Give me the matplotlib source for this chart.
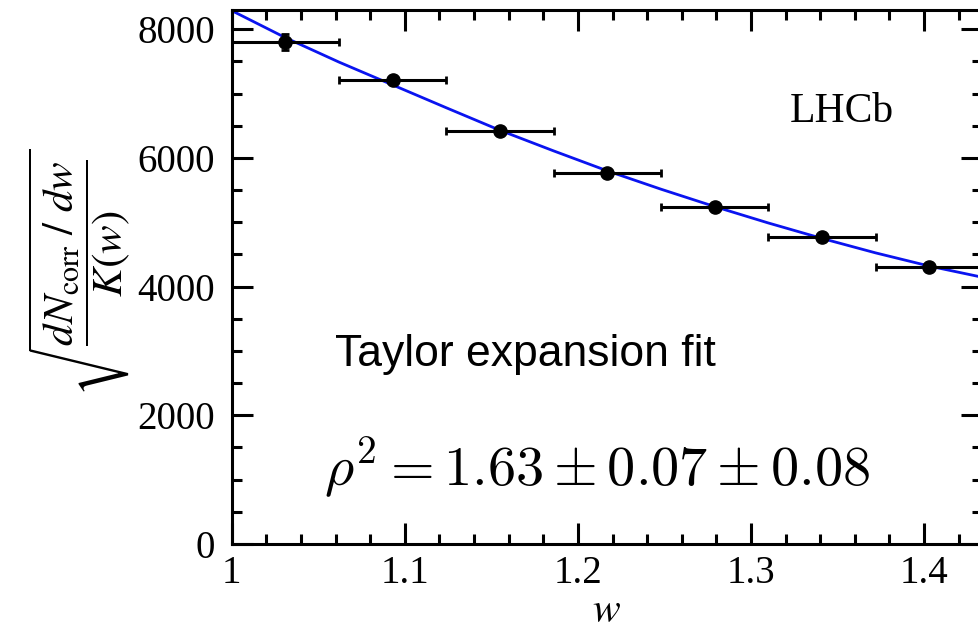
import numpy as np
import matplotlib
matplotlib.use("Agg")
import matplotlib.pyplot as plt
from matplotlib.ticker import MultipleLocator

plt.rcParams.update({
    "font.family": "serif",
    "font.serif": ["Liberation Serif", "DejaVu Serif"],
    "mathtext.fontset": "stix",
    "axes.linewidth": 2.2,
    "xtick.direction": "in",
    "ytick.direction": "in",
})

# data points (bin centres, half widths, values, errors)
w_pts = [1.031, 1.093, 1.155, 1.217, 1.279, 1.341, 1.403]
w_half = [0.031, 0.031, 0.031, 0.031, 0.031, 0.031, 0.031]
y_pts = [7800, 7212, 6424, 5771, 5235, 4764, 4310]
y_err = [120, 50, 45, 40, 40, 40, 40]

# fitted curve
w_fit = [1.000, 1.031, 1.062, 1.093, 1.124, 1.155, 1.186, 1.217, 1.248,
         1.279, 1.310, 1.341, 1.372, 1.403, 1.433]
y_fit = [8290, 7870, 7490, 7135, 6780, 6430, 6110, 5800, 5515,
         5245, 4990, 4750, 4525, 4320, 4150]

fig = plt.figure(figsize=(9.79, 6.33), dpi=100)
ax = fig.add_axes([0.2367, 0.1406, 0.7664, 0.8436])

ax.plot(w_fit, y_fit, color="#0a14f0", lw=2.0, zorder=2)
ax.errorbar(w_pts, y_pts, xerr=w_half, yerr=y_err, fmt="o", color="black",
            ms=9.5, elinewidth=2.2, capsize=3, capthick=2.0, zorder=3)

ax.set_xlim(1.0, 1.4335)
ax.set_ylim(0, 8300)
ax.xaxis.set_major_locator(MultipleLocator(0.1))
ax.xaxis.set_minor_locator(MultipleLocator(0.02))
ax.yaxis.set_major_locator(MultipleLocator(2000))
ax.yaxis.set_minor_locator(MultipleLocator(500))
ax.xaxis.set_major_formatter(matplotlib.ticker.FuncFormatter(
    lambda v, p: "1" if abs(v - 1) < 1e-9 else f"{v:.1f}"))
ax.tick_params(which="both", top=True, right=True, width=2.2, labelsize=28)
ax.tick_params(which="major", length=15)
ax.tick_params(which="minor", length=7.5)
ax.tick_params(axis="y", pad=12)
ax.tick_params(axis="x", pad=8)

ax.set_xlabel("$w$", fontsize=30, labelpad=0)
fig.text(80 / 979, 1 - 272 / 633,
         r"$\sqrt{\dfrac{dN_{\mathrm{corr}}\ /\ dw}{K(w)}}$",
         rotation=90, ha="center", va="center", fontsize=31)

ax.text(0.813, 0.809, "LHCb", transform=ax.transAxes, fontsize=30,
        ha="center", va="center")
ax.text(0.137, 0.354, "Taylor expansion fit", transform=ax.transAxes,
        fontsize=32, family="Liberation Sans", ha="left", va="center")
ax.text(0.123, 0.142, r"$\rho^2 = 1.63 \pm 0.07 \pm 0.08$",
        transform=ax.transAxes, fontsize=40.5, math_fontfamily="cm",
        ha="left", va="center")

fig.savefig("out.png", dpi=100)
